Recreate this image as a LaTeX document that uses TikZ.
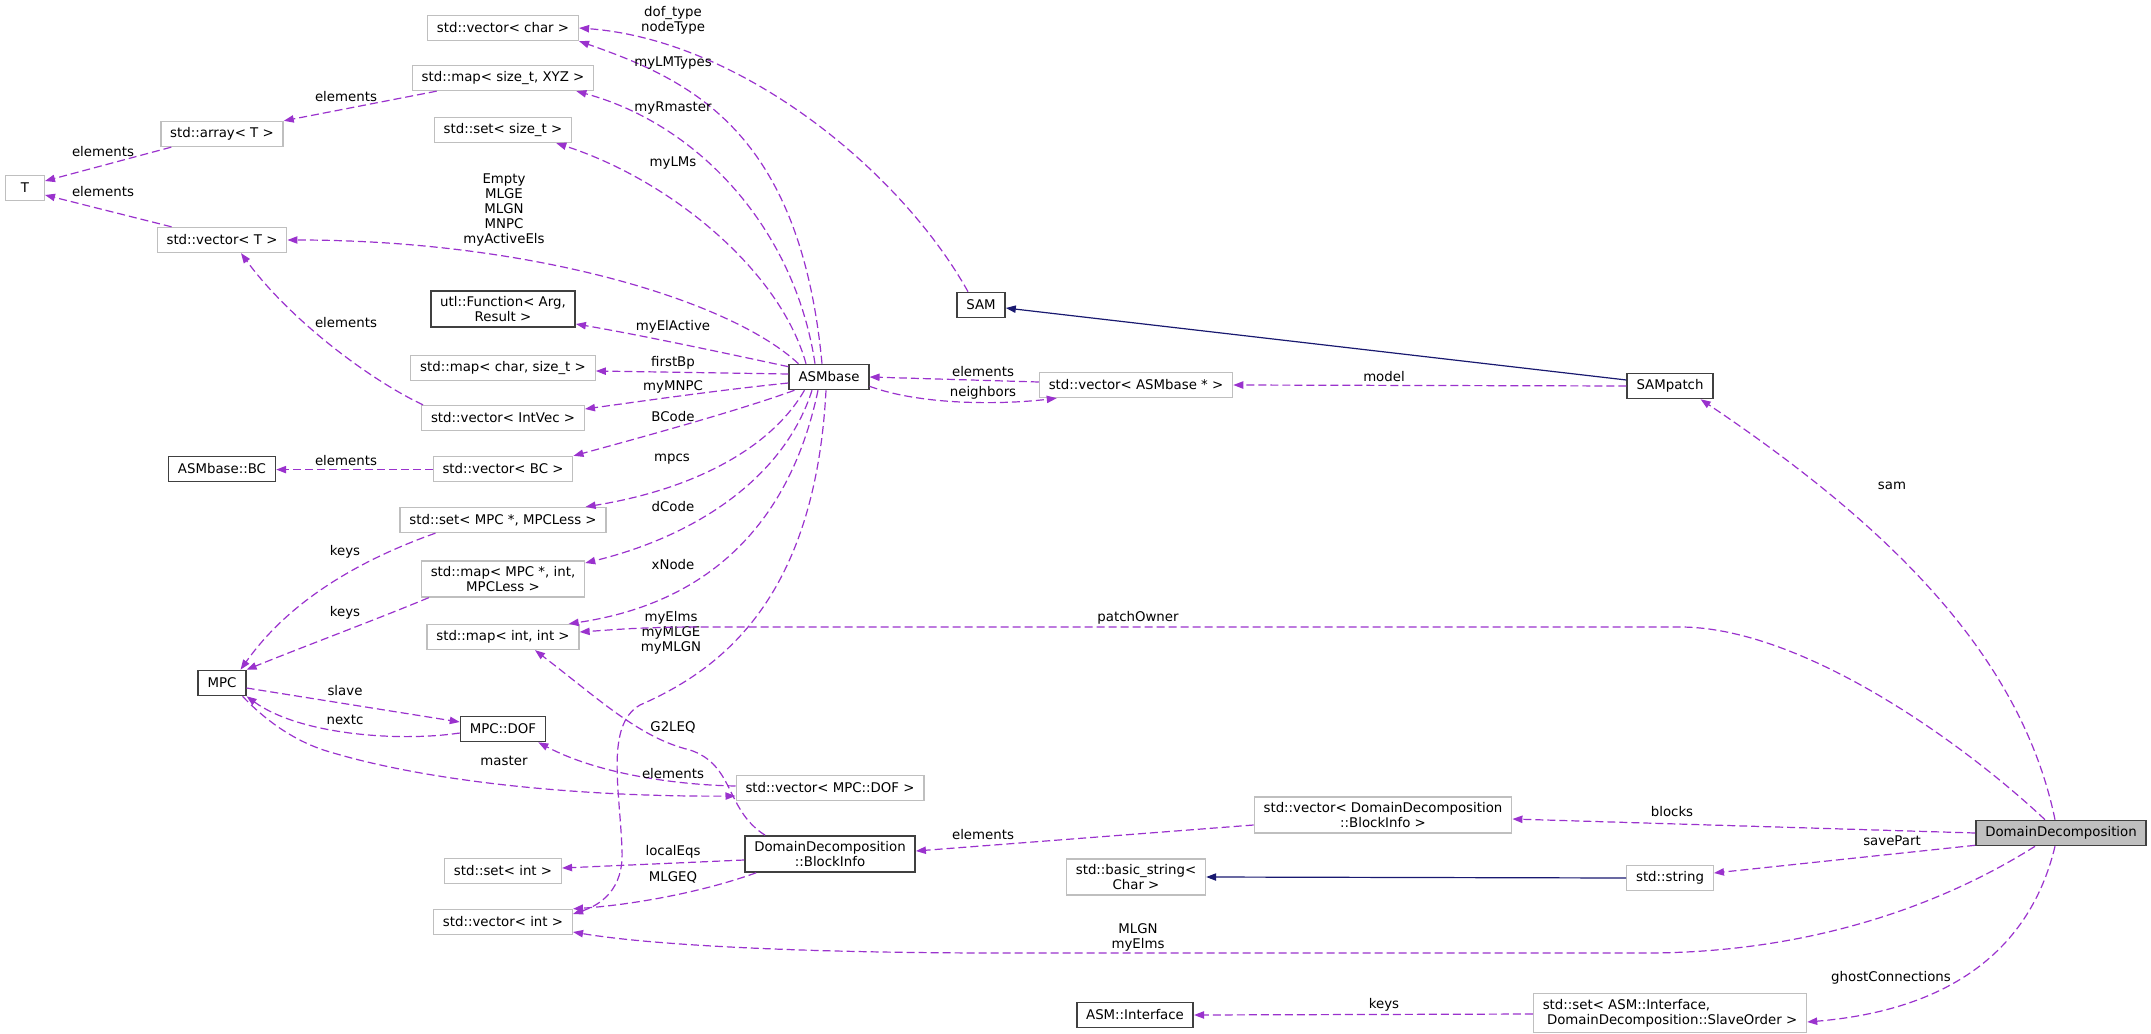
\documentclass[tikz,border=0pt]{standalone}
\usepackage{fontspec}
\setmainfont{DejaVu Sans}
\usetikzlibrary{arrows.meta,calc}
\definecolor{depc}{HTML}{9A32CD}
\definecolor{inhc}{HTML}{191970}
\definecolor{greyline}{HTML}{BFBFBF}
\definecolor{curfill}{HTML}{BFBFBF}

\begin{document}
\begin{tikzpicture}[x=0.75pt, y=-0.75pt,
    font=\fontsize{10}{11.25}\selectfont,
    box/.style={draw=black!75, line width=1.2pt, fill=white, inner xsep=7pt, inner ysep=4pt, minimum height=18.75pt, align=center},
    extbox/.style={box, draw=greyline, line width=1pt},
    curbox/.style={box, fill=curfill},
    arr/.style={draw=depc, line width=0.9pt, dash pattern=on 6pt off 3pt, -{Triangle[length=7.5pt,width=5.5pt]}},
    inh/.style={draw=inhc, line width=0.9pt, -{Triangle[length=7.5pt,width=5.5pt]}},
    lbl/.style={inner sep=0pt, align=center}
]
\useasboundingbox (0,0) rectangle (2151,1034);

\node[extbox] (vchar) at (503,28) {std::vector< char >};
\node[extbox] (mapxyz) at (503,78) {std::map< size\_t, XYZ >};
\node[extbox] (setsize) at (503,130) {std::set< size\_t >};
\node[extbox] (array) at (222,134) {std::array< T >};
\node[extbox, minimum width=29pt] (t) at (25,188) {T};
\node[extbox] (vect) at (222,240) {std::vector< T >};
\node[box] (utlf) at (503,309) {utl::Function< Arg,\\Result >};
\node[extbox] (mapchar) at (503,368) {std::map< char, size\_t >};
\node[extbox] (vintvec) at (503,418) {std::vector< IntVec >};
\node[box] (asmbc) at (222,469) {ASMbase::BC};
\node[extbox] (vbc) at (503,469) {std::vector< BC >};
\node[extbox] (setmpc) at (503,520) {std::set< MPC *, MPCLess >};
\node[extbox] (mapmpc) at (503,579) {std::map< MPC *, int,\\MPCLess >};
\node[extbox] (mapint) at (503,637) {std::map< int, int >};
\node[box] (mpc) at (222,683) {MPC};
\node[box] (mpcdof) at (503,729) {MPC::DOF};
\node[extbox] (setint) at (503,871) {std::set< int >};
\node[extbox] (vint) at (503,922) {std::vector< int >};
\node[box] (asmb) at (829,377) {ASMbase};
\node[box] (sam) at (981,305) {SAM};
\node[extbox] (vasm) at (1136,385) {std::vector< ASMbase * >};
\node[extbox] (vmpcdof) at (830,788) {std::vector< MPC::DOF >};
\node[box] (ddbi) at (830,854) {DomainDecomposition\\::BlockInfo};
\node[box] (sampatch) at (1670,386) {SAMpatch};
\node[extbox] (vddbi) at (1383,815) {std::vector< DomainDecomposition\\::BlockInfo >};
\node[curbox] (dd) at (2061,833) {DomainDecomposition};
\node[extbox] (stdstring) at (1670,878) {std::string};
\node[extbox] (basicstring) at (1136,877) {std::basic\_string<\\Char >};
\node[box] (asmint) at (1135,1015) {ASM::Interface};
\node[extbox, align=left] (setasm) at (1670,1013) {std::set< ASM::Interface,\\\ DomainDecomposition::SlaveOrder >};

\draw[arr] ($(sam.north)+(-13,0)$) .. controls (900,170) and (740,40) .. (vchar.east);
\node[lbl] (l-doftype) at (673,20) {dof\_type\\nodeType};
\draw[arr] ($(asmb.north)+(-7,0)$) .. controls (800,130) and (690,80) .. (vchar.south east);
\node[lbl] (l-lmtypes) at (673,63) {myLMTypes};
\draw[arr] ($(asmb.north)+(-14,0)$) .. controls (795,230) and (700,125) .. ($(mapxyz.south east)+(-18,0)$);
\node[lbl] (l-rmaster) at (673,108) {myRmaster};
\draw[arr] ($(asmb.north)+(-23,0)$) .. controls (780,270) and (670,180) .. ($(setsize.south east)+(-16,0)$);
\node[lbl] (l-lms) at (673,163) {myLMs};
\draw[arr] ($(asmb.north west)+(10,0)$) .. controls (730,300) and (530,240) .. (vect.east);
\node[lbl] (l-empty) at (504,210) {Empty\\MLGE\\MLGN\\MNPC\\myActiveEls};
\draw[arr] ($(asmb.north west)+(0,3)$) .. controls (720,352) and (640,335) .. ($(utlf.east)+(0,15)$);
\node[lbl] (l-elactive) at (673,327) {myElActive};
\draw[arr] ($(asmb.west)+(0,-3)$) -- ($(mapchar.east)+(0,3)$);
\node[lbl] (l-firstbp) at (673,363) {firstBp};
\draw[arr] ($(asmb.west)+(0,6)$) .. controls (720,390) and (650,400) .. ($(vintvec.east)+(0,-9)$);
\node[lbl] (l-mnpc) at (673,387) {myMNPC};
\draw[arr] ($(asmb.south west)+(6,0)$) .. controls (740,410) and (650,435) .. (vbc.north east);
\node[lbl] (l-bcode) at (673,417) {BCode};
\draw[arr] ($(asmb.south west)+(16,0)$) .. controls (770,450) and (690,490) .. ($(setmpc.north east)+(-21,0)$);
\node[lbl] (l-mpcs) at (672,459) {mpcs};
\draw[arr] ($(asmb.south)+(-17,0)$) .. controls (785,475) and (700,535) .. ($(mapmpc.east)+(0,-16)$);
\node[lbl] (l-dcode) at (673,507) {dCode};
\draw[arr] ($(asmb.south)+(-11,0)$) .. controls (795,500) and (730,600) .. ($(mapint.north east)+(-11,0)$);
\node[lbl] (l-xnode) at (673,565) {xNode};
\draw[arr] ($(asmb.south)+(-3,0)$) .. controls (815,600) and (720,670) .. (640,705)
    .. controls (605,725) and (620,790) .. (622,850) .. controls (624,890) and (600,905) .. ($(vint.east)+(0,-8)$);
\node[lbl] (l-myelms) at (671,633) {myElms\\myMLGE\\myMLGN};
\draw[arr] ($(asmb.south east)+(0,-4)$) .. controls (920,405) and (1000,405) .. ($(vasm.south west)+(18,0)$);
\node[lbl] (l-neighbors) at (983,393) {neighbors};
\draw[arr] ($(vasm.west)+(0,-3)$) -- (asmb.east);
\node[lbl] (l-asmelems) at (983,372) {elements};

\draw[arr] ($(mapxyz.south west)+(25,0)$) -- (array.north east);
\node[lbl] (l-xyzelems) at (346,97) {elements};
\draw[arr] ($(array.south west)+(11,0)$) -- ($(t.east)+(0,-7)$);
\node[lbl] (l-arrelems) at (103,152) {elements};
\draw[arr] ($(vect.north west)+(15,0)$) -- ($(t.east)+(0,7)$);
\node[lbl] (l-vtelems) at (103,192) {elements};
\draw[arr] ($(vintvec.north west)+(2,0)$) .. controls (370,380) and (290,320) .. ($(vect.south)+(19,0)$);
\node[lbl] (l-ivelems) at (346,323) {elements};
\draw[arr] ($(vbc.west)+(0,0.6)$) -- ($(asmbc.east)+(0,0.6)$);
\node[lbl] (l-bcelems) at (346,461) {elements};
\draw[arr] ($(setmpc.south west)+(36,0)$) .. controls (360,560) and (290,600) .. ($(mpc.north east)+(-6,0)$);
\node[lbl] (l-keys1) at (345,552) {keys};
\draw[arr] ($(mapmpc.south west)+(8,0)$) .. controls (380,618) and (300,648) .. (mpc.north east);
\node[lbl] (l-keys2) at (345,613) {keys};
\draw[arr] ($(mpc.east)+(0,5)$) -- ($(mpcdof.west)+(0,-7)$);
\node[lbl] (l-slave) at (345,691) {slave};
\draw[arr] ($(mpcdof.west)+(0,4)$) .. controls (400,742) and (300,735) .. (mpc.south east);
\node[lbl] (l-nextc) at (345,720) {nextc};
\draw[arr] ($(mpc.south east)+(-4,0)$) .. controls (265,720) and (295,742) .. (330,752)
    .. controls (440,785) and (600,797) .. ($(vmpcdof.west)+(0,8)$);
\node[lbl] (l-master) at (504,761) {master};
\draw[arr] ($(vmpcdof.west)+(0,-2)$) .. controls (680,785) and (600,775) .. ($(mpcdof.south east)+(-8,0)$);
\node[lbl] (l-dofelems) at (673,774) {elements};

\draw[arr] ($(ddbi.north west)+(21,0)$) .. controls (725,810) and (735,765) .. (690,750)
    .. controls (640,738) and (600,700) .. ($(mapint.south)+(32,0)$);
\node[lbl] (l-g2leq) at (673,727) {G2LEQ};
\draw[arr] ($(ddbi.west)+(0,6)$) -- ($(setint.east)+(0,-3)$);
\node[lbl] (l-localeqs) at (673,852) {localEqs};
\draw[arr] ($(ddbi.south west)+(12,0)$) .. controls (700,893) and (630,905) .. (vint.north east);
\node[lbl] (l-mlgeq) at (673,877) {MLGEQ};

\draw[inh] ($(sampatch.west)+(0,-6)$) -- ($(sam.east)+(0,3)$);
\draw[arr] (sampatch.west) -- (vasm.east);
\node[lbl] (l-model) at (1384,377) {model};
\draw[arr] ($(dd.north)+(-6,0)$) .. controls (2020,650) and (1880,520) .. ($(sampatch.south east)+(-13,0)$);
\node[lbl] (l-sam) at (1892,486) {sam};
\draw[arr] ($(dd.north)+(-16,0)$) .. controls (1960,740) and (1800,627) .. (1680,627) -- (700,627)
    .. controls (640,627) and (610,630) .. ($(mapint.east)+(0,-5)$);
\node[lbl] (l-patchowner) at (1138,618) {patchOwner};
\draw[arr] (dd.west) -- ($(vddbi.east)+(0,4)$);
\node[lbl] (l-blocks) at (1672,812) {blocks};
\draw[arr] ($(vddbi.west)+(0,10)$) -- ($(ddbi.east)+(0,-3)$);
\node[lbl] (l-bielems) at (983,835) {elements};
\draw[arr] ($(dd.south west)+(0,-1)$) -- ($(stdstring.east)+(0,-5)$);
\node[lbl] (l-savepart) at (1892,841) {savePart};
\draw[inh] (stdstring.west) -- (basicstring.east);
\draw[arr] ($(dd.south)+(-26,0)$) .. controls (1950,900) and (1820,952) .. (1650,953) -- (1000,953)
    .. controls (800,953) and (650,945) .. ($(vint.east)+(0,10)$);
\node[lbl] (l-mlgn) at (1138,937) {MLGN\\myElms};
\draw[arr] ($(dd.south)+(-6,0)$) .. controls (2030,950) and (1950,1010) .. ($(setasm.east)+(0,9)$);
\node[lbl] (l-ghost) at (1891,978) {ghostConnections};
\draw[arr] ($(setasm.west)+(0,1)$) -- (asmint.east);
\node[lbl] (l-keys3) at (1384,1005) {keys};
\end{tikzpicture}
\end{document}
